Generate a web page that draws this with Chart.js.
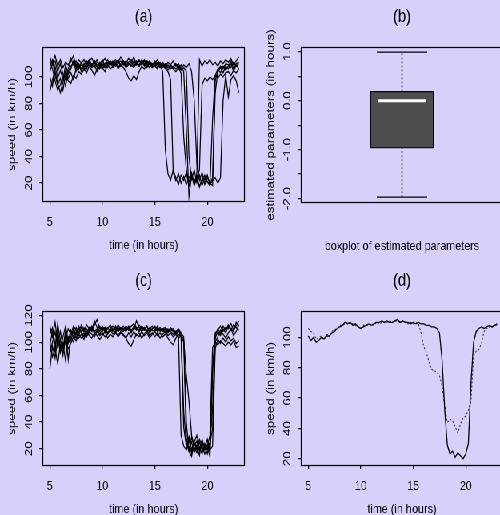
<!DOCTYPE html>
<html lang="en">
<head>
<meta charset="UTF-8">
<title>Traffic speed curves</title>
<script src="https://cdn.jsdelivr.net/npm/chart.js"></script>
<style>
  body { margin: 0; background: #d8cffa; overflow: hidden; }
  /* the four panels are laid out wide and then squeezed horizontally */
  #sheet { position: absolute; left: 0; top: 0; width: 632px; height: 515px; transform: scaleX(0.8); transform-origin: 0 0; }
  #sheet canvas { position: absolute; }
</style>
</head>
<body>
<div id="sheet">
  <canvas id="panelA" width="312" height="258" style="left:0;top:0"></canvas>
  <canvas id="panelB" width="320" height="258" style="left:312px;top:0"></canvas>
  <canvas id="panelC" width="312" height="257" style="left:0;top:258px"></canvas>
  <canvas id="panelD" width="320" height="257" style="left:312px;top:258px"></canvas>
</div>
<script>
const hours = [5, 5.25, 5.5, 5.75, 6, 6.25, 6.5, 6.75, 7, 7.25, 7.5, 7.75, 8, 8.25, 8.5, 8.75,
  9, 9.25, 9.5, 9.75, 10, 10.25, 10.5, 10.75, 11, 11.25, 11.5, 11.75, 12, 12.25, 12.5, 12.75,
  13, 13.25, 13.5, 13.75, 14, 14.25, 14.5, 14.75, 15, 15.25, 15.5, 15.75, 16, 16.25, 16.5, 16.75,
  17, 17.25, 17.5, 17.75, 18, 18.25, 18.5, 18.75, 19, 19.25, 19.5, 19.75, 20, 20.25, 20.5, 20.75,
  21, 21.25, 21.5, 21.75, 22, 22.25, 22.5, 22.75, 23];

// (a) raw daily speed curves
const speedA1 = [112, 106, 97, 90, 94, 100, 93, 104, 108, 111, 107, 110, 106, 109, 112, 108,
  110, 107, 111, 109, 113, 108, 110, 112, 109, 111, 107, 110, 112, 109, 111, 113,
  110, 112, 108, 111, 109, 112, 110, 108, 111, 107, 109, 104, 45, 27, 22, 30,
  24, 19, 26, 22, 28, 18, 24, 21, 25, 17, 23, 20, 26, 19, 22, 24,
  20, 24, 82, 101, 85, 98, 101, 97, 88];
const speedA2 = [89, 98, 104, 95, 88, 96, 105, 99, 103, 98, 106, 109, 104, 110, 106, 111,
  108, 112, 109, 106, 110, 107, 111, 109, 112, 110, 113, 108, 110, 107, 109, 111,
  108, 111, 113, 109, 112, 108, 111, 110, 108, 110, 107, 109, 106, 104, 98, 28,
  22, 27, 20, 25, 19, 24, 28, 20, 23, 18, 22, 26, 21, 19, 24, 88,
  104, 107, 103, 108, 106, 110, 104, 109, 106];
const speedA3 = [108, 113, 101, 94, 99, 90, 102, 97, 95, 101, 99, 104, 102, 106, 103, 108,
  105, 101, 106, 110, 107, 104, 109, 106, 108, 111, 106, 109, 107, 104, 99, 97,
  101, 98, 104, 108, 106, 109, 107, 110, 108, 106, 110, 107, 109, 105, 108, 106,
  104, 107, 103, 55, 30, 21, 26, 18, 24, 30, 94, 99, 97, 100, 98, 101,
  99, 102, 100, 103, 104, 101, 105, 103, 106];
const speedA4 = [115, 109, 112, 104, 110, 102, 98, 106, 112, 116, 108, 113, 110, 113, 109, 112,
  114, 110, 113, 108, 111, 114, 109, 112, 110, 113, 111, 115, 112, 110, 114, 111,
  115, 109, 112, 110, 113, 110, 112, 109, 110, 113, 109, 111, 108, 111, 109, 107,
  110, 106, 109, 104, 60, 10, 26, 20, 27, 113, 108, 112, 110, 113, 109, 111,
  108, 112, 110, 113, 111, 114, 109, 112, 115];
const speedA5 = [104, 110, 116, 108, 113, 107, 111, 109, 114, 109, 112, 106, 111, 107, 110, 113,
  109, 112, 107, 111, 108, 110, 113, 109, 111, 108, 110, 112, 109, 112, 110, 108,
  112, 110, 109, 113, 110, 107, 111, 109, 112, 109, 111, 108, 110, 107, 109, 112,
  108, 110, 106, 109, 107, 110, 104, 82, 35, 22, 28, 19, 24, 20, 18, 97,
  105, 108, 106, 110, 109, 107, 111, 108, 110];
const speedA6 = [100, 93, 108, 99, 105, 98, 109, 102, 106, 112, 104, 108, 109, 105, 108, 110,
  107, 109, 104, 108, 106, 109, 107, 111, 107, 109, 112, 108, 111, 108, 110, 109,
  107, 110, 108, 112, 108, 111, 109, 107, 109, 111, 108, 110, 107, 109, 106, 108,
  106, 108, 105, 107, 104, 40, 23, 30, 20, 26, 18, 24, 21, 18, 68, 101,
  106, 103, 108, 105, 108, 112, 106, 110, 111];

// (c) the same days after registration
const speedC1 = [80, 97, 88, 103, 92, 99, 86, 104, 101, 108, 103, 110, 107, 111, 105, 109,
  112, 108, 110, 106, 109, 111, 107, 110, 108, 112, 109, 111, 110, 108, 112, 109,
  111, 109, 113, 110, 109, 112, 108, 110, 111, 108, 110, 109, 107, 110, 108, 106,
  108, 105, 30, 22, 19, 27, 16, 24, 21, 15, 26, 19, 23, 17, 78, 103,
  108, 105, 110, 107, 112, 109, 113, 111, 109];
const speedC2 = [112, 104, 115, 100, 108, 97, 103, 110, 106, 112, 109, 105, 111, 108, 113, 110,
  109, 116, 111, 108, 112, 109, 111, 108, 110, 107, 111, 109, 108, 111, 109, 112,
  114, 111, 109, 112, 110, 108, 111, 109, 108, 111, 109, 110, 109, 107, 110, 108,
  106, 109, 104, 48, 24, 18, 29, 21, 17, 25, 19, 22, 16, 24, 35, 100,
  104, 109, 106, 103, 107, 110, 105, 108, 113];
const speedC3 = [100, 89, 95, 84, 98, 92, 101, 95, 99, 104, 101, 106, 103, 107, 104, 108,
  106, 104, 108, 105, 107, 104, 106, 109, 106, 108, 104, 107, 105, 103, 99, 97,
  102, 106, 104, 108, 105, 107, 103, 106, 108, 105, 107, 104, 106, 103, 100, 98,
  103, 106, 104, 100, 28, 20, 25, 17, 23, 19, 27, 20, 22, 30, 96, 100,
  98, 101, 99, 97, 100, 98, 101, 96, 97];
const speedC4 = [91, 100, 108, 96, 102, 90, 107, 99, 104, 100, 107, 103, 106, 102, 108, 105,
  103, 107, 105, 102, 105, 108, 103, 106, 104, 107, 105, 108, 106, 103, 107, 104,
  108, 105, 107, 103, 106, 109, 105, 107, 104, 107, 103, 106, 108, 105, 107, 104,
  106, 103, 105, 102, 75, 56, 30, 22, 26, 18, 24, 20, 27, 19, 22, 95,
  102, 99, 103, 100, 104, 101, 103, 99, 101];
const speedC5 = [106, 111, 98, 108, 95, 104, 112, 101, 109, 104, 111, 107, 113, 109, 106, 111,
  108, 113, 117, 110, 111, 108, 110, 113, 109, 111, 108, 110, 112, 109, 111, 108,
  110, 116, 111, 108, 111, 108, 110, 112, 109, 112, 108, 110, 111, 109, 108, 110,
  107, 109, 106, 36, 22, 29, 19, 25, 30, 21, 16, 24, 19, 25, 50, 105,
  110, 107, 112, 109, 113, 110, 108, 115, 112];
const speedC6 = [98, 108, 93, 114, 101, 95, 109, 87, 104, 110, 106, 112, 108, 104, 110, 107,
  111, 106, 109, 112, 108, 111, 106, 110, 112, 109, 113, 110, 109, 112, 110, 107,
  112, 110, 108, 111, 109, 112, 107, 110, 112, 109, 111, 108, 110, 108, 111, 109,
  108, 110, 107, 104, 40, 18, 14, 25, 19, 27, 22, 16, 21, 14, 80, 107,
  109, 112, 108, 111, 110, 114, 109, 112, 116];

// (d) registered mean (solid) and cross-sectional mean (dotted)
const meanAligned = [101, 98, 100, 97, 98, 100, 99, 101, 101, 103, 104, 106, 107, 108, 110, 109,
  110, 108, 109, 107, 106, 107, 108, 109, 108, 109, 110, 110, 111, 110, 111, 110,
  110, 111, 112, 110, 111, 110, 110, 109, 110, 109, 110, 109, 109, 108, 108, 107,
  107, 106, 103, 85, 52, 29, 23, 25, 21, 24, 22, 20, 23, 30, 70, 97,
  104, 106, 107, 106, 107, 108, 107, 108, 109];
const meanRaw = [106, 104, 103, 99, 100, 101, 99, 102, 102, 104, 105, 106, 108, 108, 109, 110,
  109, 109, 108, 107, 106, 108, 108, 108, 109, 108, 110, 109, 110, 110, 110, 111,
  110, 111, 111, 110, 111, 110, 109, 110, 109, 110, 109, 103, 94, 90, 84, 79,
  78, 77, 75, 68, 55, 44, 46, 45, 41, 37, 43, 47, 48, 52, 58, 88,
  91, 92, 96, 104, 106, 107, 107, 108, 108];

// (b) five-number summary of the estimated shifts
const boxMin = -1.97, boxQ1 = -0.97, boxMedian = 0.0, boxQ3 = 0.19, boxMax = 0.99;

const xTicks = [5, 10, 15, 20];
const yTicksA = [20, 40, 60, 80, 100];
const yTicksC = [20, 40, 60, 80, 100, 120];
const yTicksD = [20, 40, 60, 80, 100];
const yTicksB = [-2, -1.5, -1, -0.5, 0, 0.5, 1];
const yLabelsB = ['-2.0', '', '-1.0', '', '0.0', '', '1.0'];

const fontFamily = '"Liberation Sans", Arial, sans-serif';
const capHalf = 0.168;

// box around the plot region plus all the rotated and free text
function frame(cfg) {
    return {
        id: 'frame',
        afterDraw(chart) {
            const ctx = chart.ctx;
            const a = chart.chartArea;
            const ys = chart.scales.y;
            const cx = (a.left + a.right) / 2;
            const cy = (a.top + a.bottom) / 2;
            ctx.save();
            ctx.strokeStyle = '#000';
            ctx.lineWidth = 1.25;
            ctx.strokeRect(a.left + 0.5, a.top + 0.5, a.right - a.left - 1, a.bottom - a.top - 1);
            ctx.fillStyle = '#000';
            ctx.textAlign = 'center';
            ctx.textBaseline = 'middle';
            ctx.font = '18px ' + fontFamily;
            ctx.fillText(cfg.title, cx, a.top - 30);
            ctx.font = '13.5px ' + fontFamily;
            ctx.fillText(cfg.xTitle, cx, a.bottom + 43);
            ctx.save();
            ctx.translate(a.left - 38, cy);
            ctx.rotate(-Math.PI / 2);
            ctx.fillText(cfg.yTitle, 0, 0);
            ctx.restore();
            cfg.yTicks.forEach((v, i) => {
                if (!cfg.yLabels[i]) return;
                ctx.save();
                ctx.translate(a.left - 17, ys.getPixelForValue(v));
                ctx.rotate(-Math.PI / 2);
                ctx.fillText(cfg.yLabels[i], 0, 0);
                ctx.restore();
            });
            ctx.restore();
        }
    };
}

function yAxis(min, max, ticks, width) {
    return {
        min: min, max: max,
        afterBuildTicks: s => { s.ticks = ticks.map(v => ({ value: v })); },
        afterFit: s => { s.width = width; },
        ticks: { display: false },
        grid: { drawOnChartArea: false, tickLength: 4, color: '#000', lineWidth: 1.25 },
        border: { display: false }
    };
}

function xAxis(height) {
    return {
        type: 'linear', min: 4.29, max: 23.57,
        afterBuildTicks: s => { s.ticks = xTicks.map(v => ({ value: v })); },
        afterFit: s => { s.height = height; },
        ticks: { color: '#000', font: { family: 'Liberation Sans', size: 13.5 }, padding: 9, maxRotation: 0, autoSkip: false },
        grid: { drawOnChartArea: false, tickLength: 3, color: '#000', lineWidth: 1.25 },
        border: { display: false }
    };
}

function toPoints(values) {
    return values.map((v, i) => ({ x: hours[i], y: v }));
}

function commonOptions(padding) {
    return {
        responsive: false,
        animation: false,
        events: [],
        layout: { padding: padding },
        plugins: { legend: { display: false }, tooltip: { enabled: false } },
        elements: { point: { radius: 0 }, line: { tension: 0 } }
    };
}

function speedChart(id, datasets, yMin, yMax, yTicks, area, titles) {
    const options = commonOptions({ top: area.top, right: area.right, left: 0, bottom: 0 });
    options.scales = { x: xAxis(area.xHeight), y: yAxis(yMin, yMax, yTicks, area.yWidth) };
    return new Chart(document.getElementById(id), {
        type: 'line',
        data: { datasets: datasets },
        options: options,
        plugins: [frame({ title: titles[0], xTitle: titles[1], yTitle: titles[2], yTicks: yTicks, yLabels: yTicks.map(String) })]
    });
}

const blackLine = s => ({ data: toPoints(s), borderColor: '#000', borderWidth: 1.25 });

speedChart('panelA', [speedA1, speedA2, speedA3, speedA4, speedA5, speedA6].map(blackLine),
    5.75, 122.5, yTicksA, { top: 47, right: 6, xHeight: 56, yWidth: 53 },
    ['(a)', 'time (in hours)', 'speed (in km/h)']);

speedChart('panelC', [speedC1, speedC2, speedC3, speedC4, speedC5, speedC6].map(blackLine),
    7.0, 123.4, yTicksC, { top: 53, right: 6, xHeight: 49, yWidth: 53 },
    ['(c)', 'time (in hours)', 'speed (in km/h)']);

speedChart('panelD', [
        { data: toPoints(meanAligned), borderColor: '#000', borderWidth: 1.3 },
        { data: toPoints(meanRaw), borderColor: '#333', borderWidth: 1.1, borderDash: [2, 2] }
    ],
    15.2, 117.5, yTicksD, { top: 53, right: 3, xHeight: 49, yWidth: 64 },
    ['(d)', 'time (in hours)', 'speed (in km/h)']);

// boxplot built from a floating bar and a few line segments
const boxOptions = commonOptions({ top: 47, right: 3, left: 0, bottom: 55 });
boxOptions.scales = {
    x: { type: 'linear', min: 0.46, max: 1.54, display: false },
    y: yAxis(-2.09, 1.096, yTicksB, 64)
};
const segment = (pts, extra) => Object.assign({ type: 'line', data: pts, borderColor: '#000', borderWidth: 1.25, order: 1 }, extra);
new Chart(document.getElementById('panelB'), {
    type: 'bar',
    data: {
        datasets: [
            segment([{ x: 1 - capHalf + 0.006, y: boxMedian }, { x: 1 + capHalf - 0.006, y: boxMedian }], { borderColor: '#fff', borderWidth: 3, order: 0 }),
            segment([{ x: 1, y: boxQ3 }, { x: 1, y: boxMax }], { borderDash: [2, 2], borderWidth: 1.5 }),
            segment([{ x: 1, y: boxMin }, { x: 1, y: boxQ1 }], { borderDash: [2, 2], borderWidth: 1.5 }),
            segment([{ x: 1 - capHalf, y: boxMax }, { x: 1 + capHalf, y: boxMax }]),
            segment([{ x: 1 - capHalf, y: boxMin }, { x: 1 + capHalf, y: boxMin }]),
            {
                type: 'bar', data: [{ x: 1, y: [boxQ1, boxQ3] }],
                backgroundColor: '#4d4d4d', borderColor: '#000', borderWidth: 1.25,
                borderSkipped: false, barThickness: 79, order: 2
            }
        ]
    },
    options: boxOptions,
    plugins: [frame({ title: '(b)', xTitle: 'boxplot of estimated parameters', yTitle: 'estimated parameters (in hours)', yTicks: yTicksB, yLabels: yLabelsB })]
});
</script>
</body>
</html>
